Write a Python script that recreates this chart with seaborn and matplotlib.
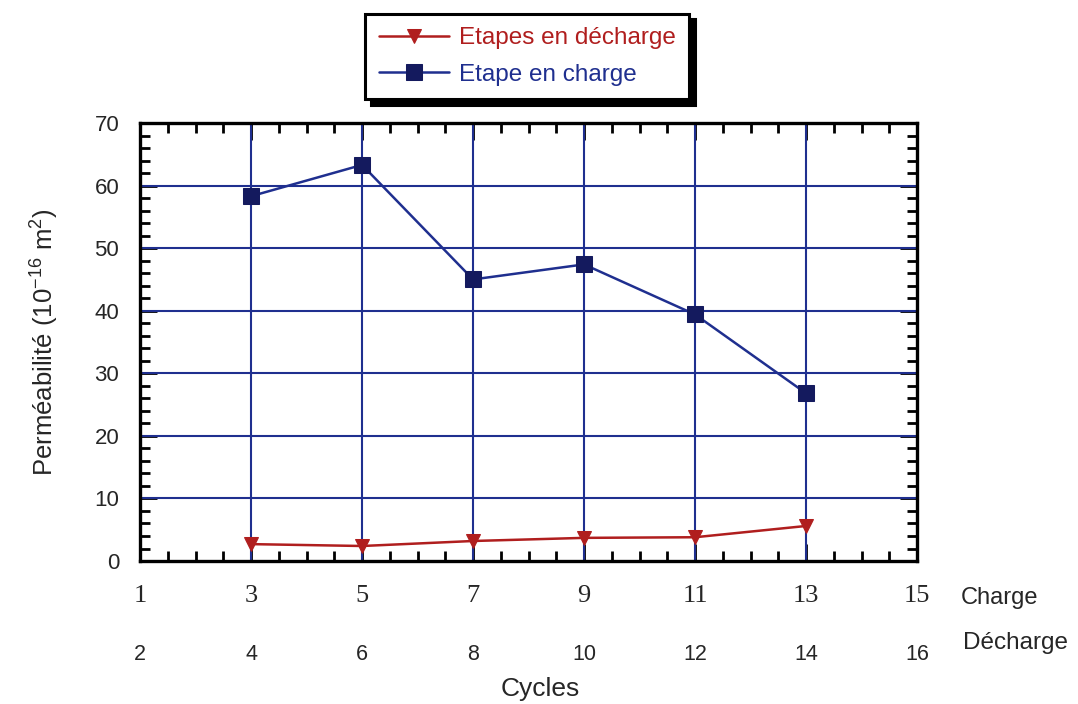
import matplotlib
matplotlib.use("Agg")
import matplotlib.pyplot as plt
import seaborn as sns
import pandas as pd
from matplotlib.ticker import MultipleLocator, FixedLocator

# ---- data ----
cycles = [3, 5, 7, 9, 11, 13]
charge_perm = [58.3, 63.3, 45.0, 47.4, 39.4, 26.8]
discharge_perm = [2.7, 2.4, 3.2, 3.7, 3.8, 5.6]
charge_ticks = [1, 3, 5, 7, 9, 11, 13, 15]
charge_labels = ["1", "3", "5", "7", "9", "11", "13", "15"]
discharge_labels = ["2", "4", "6", "8", "10", "12", "14", "16"]
y_ticks = [0, 10, 20, 30, 40, 50, 60, 70]
series_names = ["Etapes en décharge", "Etape en charge"]

sns.set_theme(style="white")
plt.rcParams["font.family"] = ["Liberation Sans", "DejaVu Sans"]
plt.rcParams["mathtext.fontset"] = "custom"
plt.rcParams["mathtext.rm"] = "Liberation Sans"
plt.rcParams["mathtext.it"] = "Liberation Sans"

BLUE = "#1f2f8f"
NAVY = "#141a5e"
RED = "#b01e1e"

df = pd.DataFrame({
    "cycle": cycles * 2,
    "perm": discharge_perm + charge_perm,
    "serie": [series_names[0]] * len(cycles) + [series_names[1]] * len(cycles),
})

fig = plt.figure(figsize=(10.78, 7.04), dpi=100)
ax = fig.add_axes([0.1299, 0.2031, 0.7208, 0.6222])

# grid
for yv in y_ticks[1:-1]:
    ax.axhline(yv, color=BLUE, lw=1.5, zorder=1)
for xv in charge_ticks[1:-1]:
    ax.axvline(xv, color=BLUE, lw=1.5, zorder=1)

sns.lineplot(data=df[df.serie == series_names[0]], x="cycle", y="perm", ax=ax,
             color=RED, lw=1.8, marker="v", markersize=10, markeredgecolor=RED,
             markerfacecolor=RED, label=series_names[0], zorder=3)
sns.lineplot(data=df[df.serie == series_names[1]], x="cycle", y="perm", ax=ax,
             color=BLUE, lw=1.8, marker="s", markersize=11, markeredgecolor=NAVY,
             markerfacecolor=NAVY, label=series_names[1], zorder=3)

ax.set_xlim(1, 15)
ax.set_ylim(0, 70)
ax.set_yticks(y_ticks)
ax.set_yticklabels([str(v) for v in y_ticks], fontsize=16)
ax.yaxis.set_minor_locator(MultipleLocator(2))
ax.set_xticks(charge_ticks)
ax.set_xticklabels(charge_labels, fontsize=19, family=["Liberation Serif"])
ax.xaxis.set_minor_locator(MultipleLocator(0.5))
ax.tick_params(which="both", direction="in", top=True, right=True, bottom=True, left=True,
               color="black", width=2)
ax.tick_params(which="major", length=12)
ax.tick_params(which="minor", length=7)
ax.tick_params(axis="x", which="major", pad=17)
ax.tick_params(axis="y", which="major", pad=15)
for s in ax.spines.values():
    s.set_color("black")
    s.set_linewidth(2.4)
ax.set_xlabel("")
ax.set_ylabel("Perméabilité (10$^{\\mathrm{-16}}$ m$^2$)", fontsize=18.5, labelpad=24)

# second row of cycle labels (décharge)
sec = ax.secondary_xaxis(-0.19)
sec.set_xticks(charge_ticks)
sec.set_xticklabels(discharge_labels, fontsize=15.5)
sec.tick_params(length=0, pad=0)
sec.spines["bottom"].set_visible(False)
sec.xaxis.set_minor_locator(FixedLocator([]))

fig.text(0.891, 0.150, "Charge", fontsize=17, ha="left", va="center")
fig.text(0.893, 0.086, "Décharge", fontsize=17.5, ha="left", va="center")
fig.text(0.501, 0.022, "Cycles", fontsize=19, ha="center", va="center")

leg = ax.legend(loc="center", bbox_to_anchor=(0.489, 0.92), bbox_transform=fig.transFigure,
                fontsize=17.5, frameon=True, fancybox=False, handlelength=2.9,
                handletextpad=0.4, borderpad=0.55, labelspacing=0.6, borderaxespad=0,
                shadow={"color": "black", "alpha": 1, "ox": 4, "oy": -4})
leg.get_frame().set_edgecolor("black")
leg.get_frame().set_linewidth(2.2)
leg.get_texts()[0].set_color(RED)
leg.get_texts()[1].set_color(BLUE)

fig.savefig("out.png", dpi=100)
